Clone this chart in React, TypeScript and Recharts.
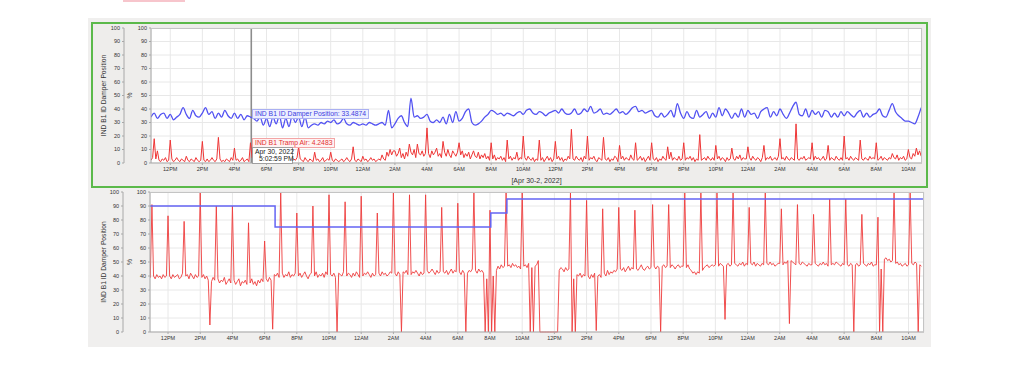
import React from 'react';
import { LineChart, Line, XAxis, YAxis, CartesianGrid, ReferenceLine } from 'recharts';

// hours counted from 12PM Apr 30; damper logged every 12 min, tramp air every 6 min
const startHour = -1.2;
const damperStep = 0.2;
const trampStep = 0.1;

// top panel - IND B1 ID Damper Position (%)
const topDamper = [
  34, 37, 33, 36, 37, 33,
  36, 32, 34, 36, 41, 36, 33, 39, 35, 34,
  37, 41, 36, 38, 33, 37, 34, 39, 35, 33,
  37, 33, 36, 32, 35, 34, 33, 31, 34, 28,
  33, 27, 34, 29, 35, 26, 33, 27, 35, 30,
  34, 27, 34, 26, 28, 29, 28, 30, 29, 31,
  30, 32, 29, 30, 33, 29, 28, 30, 29, 28,
  29, 28, 30, 29, 28, 29, 30, 28, 39, 26,
  29, 33, 35, 30, 27, 48, 34, 35, 33, 34,
  36, 31, 30, 32, 30, 34, 29, 36, 30, 38,
  31, 33, 38, 40, 30, 28, 29, 31, 34, 36,
  39, 38, 36, 37, 35, 37, 36, 35, 37, 38,
  36, 39, 40, 37, 36, 38, 37, 35, 37, 38,
  39, 37, 40, 37, 36, 37, 40, 36, 37, 40,
  38, 42, 37, 38, 40, 36, 37, 36, 38, 40,
  37, 38, 36, 38, 41, 42, 38, 39, 37, 38,
  39, 35, 34, 37, 34, 36, 39, 34, 44, 37,
  33, 38, 34, 33, 39, 34, 36, 38, 33, 37,
  34, 41, 35, 40, 37, 33, 37, 34, 40, 34,
  39, 36, 37, 33, 38, 40, 41, 34, 38, 35,
  40, 36, 33, 37, 42, 45, 36, 35, 40, 34,
  39, 36, 38, 34, 39, 38, 34, 37, 34, 38,
  35, 38, 36, 34, 37, 39, 34, 37, 34, 36,
  37, 40, 35, 34, 39, 44, 38, 35, 33, 31,
  31, 30, 29, 34, 41,
];

// top panel - IND B1 Tramp Air
const topTrampAir = [
  2, 4, 18, 3, 9, 2, 1, 3, 2, 4, 1, 2,
  17, 3, 1, 2, 4, 2, 1, 3, 2, 1, 5, 2, 1, 3, 2, 1, 4, 2, 1, 2,
  16, 2, 1, 3, 1, 2, 4, 2, 1, 3, 19, 3, 1, 2, 1, 3, 2, 1, 4, 2,
  11, 2, 3, 1, 2, 4, 1, 2, 3, 1, 15, 4, 2, 1, 3, 1, 2, 4, 1, 3,
  6, 2, 3, 1, 2, 1, 3, 2, 1, 2, 7, 3, 1, 2, 4, 1, 2, 3, 2, 4,
  12, 3, 2, 1, 4, 2, 1, 3, 2, 1, 8, 2, 3, 1, 2, 4, 1, 2, 3, 2,
  8, 2, 1, 3, 2, 1, 2, 3, 1, 2, 4, 2, 1, 3, 12, 2, 1, 3, 2, 1,
  5, 2, 3, 1, 2, 4, 2, 3, 1, 2, 3, 2, 6, 3, 2, 8, 5, 10, 6, 9,
  9, 5, 7, 11, 4, 7, 3, 8, 5, 14, 8, 6, 10, 4, 14, 7, 6, 9, 5, 7,
  26, 7, 4, 9, 6, 8, 11, 5, 7, 4, 16, 8, 5, 10, 6, 4, 9, 7, 5, 8,
  15, 6, 9, 4, 7, 5, 8, 3, 6, 9, 5, 4, 8, 3, 6, 4, 7, 3, 5, 2,
  15, 3, 6, 2, 4, 3, 5, 2, 4, 1, 17, 3, 5, 2, 4, 3, 8, 2, 4, 3,
  20, 4, 2, 5, 3, 2, 4, 1, 3, 2, 17, 2, 4, 1, 3, 5, 2, 4, 1, 3,
  16, 3, 5, 2, 4, 1, 3, 2, 5, 3, 25, 3, 2, 5, 3, 2, 4, 1, 5, 3,
  20, 2, 4, 3, 5, 2, 1, 4, 3, 2, 19, 3, 2, 4, 1, 3, 2, 5, 4, 1,
  13, 3, 5, 2, 4, 3, 2, 6, 3, 2, 15, 2, 3, 5, 2, 4, 1, 3, 5, 2,
  15, 3, 2, 4, 1, 3, 2, 5, 3, 2, 12, 3, 8, 2, 4, 3, 2, 5, 2, 3,
  15, 2, 4, 3, 5, 2, 4, 1, 3, 2, 21, 2, 3, 4, 2, 5, 3, 2, 4, 2,
  13, 3, 5, 2, 4, 3, 1, 4, 2, 3, 11, 3, 2, 5, 3, 6, 2, 4, 3, 3,
  12, 4, 2, 5, 3, 2, 4, 3, 1, 4, 13, 2, 4, 3, 5, 2, 3, 4, 2, 5,
  18, 3, 4, 2, 5, 3, 2, 4, 3, 2, 29, 3, 2, 4, 3, 5, 2, 3, 4, 3,
  15, 2, 5, 3, 4, 2, 3, 5, 2, 3, 13, 2, 4, 3, 2, 5, 3, 2, 4, 2,
  20, 3, 4, 2, 5, 3, 2, 4, 3, 2, 17, 3, 2, 4, 3, 2, 5, 3, 4, 3,
  15, 2, 3, 5, 2, 4, 3, 2, 4, 3, 7, 4, 3, 6, 2, 4, 3, 5, 2, 3,
  10, 4, 3, 7, 5, 11, 6, 9, 5,
];

// bottom panel - tramp air
const bottomTrampAir = [
  41, 39, 91, 40, 38, 41, 39, 40, 38, 41, 39, 40,
  83, 40, 38, 41, 39, 40, 41, 38, 39, 42, 79, 40, 41, 38, 42, 40, 38, 41, 39, 40,
  100, 39, 41, 38, 40, 37, 5, 36, 39, 37, 90, 38, 35, 37, 36, 39, 34, 36, 38, 35,
  90, 37, 34, 36, 38, 33, 36, 35, 37, 34, 78, 35, 38, 34, 36, 33, 37, 35, 38, 36,
  65, 38, 36, 39, 37, 2, 41, 40, 42, 39, 100, 42, 39, 41, 40, 43, 39, 41, 40, 42,
  85, 40, 42, 39, 41, 43, 40, 38, 41, 42, 90, 40, 43, 39, 41, 40, 42, 39, 43, 41,
  98, 41, 40, 42, 39, 0, 42, 41, 40, 43, 93, 40, 42, 41, 39, 42, 40, 43, 41, 39,
  97, 40, 42, 41, 43, 41, 39, 42, 40, 41, 85, 42, 40, 43, 41, 42, 40, 41, 43, 42,
  100, 42, 40, 43, 41, 0, 43, 42, 44, 41, 98, 41, 43, 42, 44, 42, 40, 43, 41, 42,
  98, 44, 42, 43, 45, 43, 41, 44, 42, 43, 89, 43, 42, 44, 41, 43, 45, 42, 44, 43,
  92, 43, 41, 44, 42, 0, 42, 44, 43, 45, 100, 44, 42, 45, 43, 44, 42, 0, 38, 0,
  87, 0, 40, 0, 44, 47, 45, 48, 46, 47, 100, 47, 48, 46, 49, 47, 48, 46, 47, 45,
  100, 47, 48, 46, 49, 0, 46, 0, 47, 48, 51, 0, 0, 0, 0, 0, 0, 0, 0, 0,
  0, 0, 0, 44, 46, 45, 43, 46, 44, 45, 100, 0, 38, 0, 41, 40, 42, 39, 41, 40,
  94, 40, 38, 41, 39, 42, 1, 40, 41, 39, 88, 42, 40, 44, 41, 43, 42, 44, 43, 45,
  89, 45, 44, 46, 43, 45, 47, 44, 46, 45, 87, 45, 44, 46, 48, 45, 44, 46, 47, 45,
  46, 91, 47, 45, 47, 46, 0, 47, 48, 46, 47, 91, 46, 48, 47, 45, 47, 48, 46, 47,
  47, 100, 46, 48, 45, 44, 42, 43, 41, 43, 42, 100, 44, 46, 47, 48, 46, 47, 48, 47,
  48, 100, 47, 49, 48, 47, 9, 48, 49, 47, 48, 100, 49, 48, 47, 49, 48, 50, 47, 49,
  48, 89, 49, 48, 50, 47, 49, 48, 47, 49, 48, 100, 49, 48, 50, 48, 49, 47, 48, 49,
  49, 88, 48, 50, 49, 51, 6, 51, 50, 49, 48, 91, 49, 48, 50, 49, 48, 47, 49, 48,
  48, 84, 49, 48, 47, 49, 48, 50, 48, 49, 47, 95, 48, 49, 48, 50, 49, 48, 47, 49,
  48, 95, 48, 47, 49, 48, 0, 48, 49, 47, 48, 84, 49, 48, 47, 49, 48, 50, 47, 48,
  48, 82, 0, 45, 0, 52, 53, 51, 52, 50, 51, 100, 49, 50, 48, 49, 47, 48, 49, 47,
  48, 100, 49, 48, 50, 49, 0, 48, 47,
];

// bottom panel - damper position setpoint (steps)
const setpointTimes = [-1.2, 6.65, 20.05, 21.05, 46.96];
const setpointValues = [90, 75, 85, 95, 95];

const hourTicks = [0, 2, 4, 6, 8, 10, 12, 14, 16, 18, 20, 22, 24, 26, 28, 30, 32, 34, 36, 38, 40, 42, 44, 46];
const pctTicks = [0, 10, 20, 30, 40, 50, 60, 70, 80, 90, 100];

const cursorTime = 5.05;
const damperReading = '33.4874';
const trampReading = '4.2483';

const at = (step: number, i: number) => +(startHour + i * step).toFixed(2);
const damperData = topDamper.map((v, i) => ({ t: at(damperStep, i), damper: v }));
const topData = topTrampAir.map((v, i) => ({ t: at(trampStep, i), tramp: v }));
const bottomData = bottomTrampAir.map((v, i) => ({ t: at(trampStep, i), tramp: v }));
const setpointData = setpointTimes.map((t, i) => ({ t, sp: setpointValues[i] }));

const fmtHour = (t: number) => {
  const h = (((12 + t) % 24) + 24) % 24;
  const h12 = h % 12 === 0 ? 12 : h % 12;
  return `${h12}${h < 12 ? 'AM' : 'PM'}`;
};

const font = '"Liberation Sans", Arial, sans-serif';
const tickStyle = { fontSize: 5.5, fill: '#333' };
const axisGray = '#a8a8a8';

function yAxes(outerW: number, innerW: number, outerOffset: number, innerOffset: number) {
  return [
    <YAxis
      key="pos"
      yAxisId="pos"
      width={outerW}
      domain={[0, 100]}
      ticks={pctTicks}
      interval={0}
      tick={tickStyle}
      tickSize={2}
      stroke={axisGray}
      label={{
        value: 'IND B1 ID Damper Position',
        angle: -90,
        position: 'insideLeft',
        offset: outerOffset,
        style: { textAnchor: 'middle', fontSize: 6.7, fill: '#333' },
      }}
    />,
    <YAxis
      key="pct"
      yAxisId="pct"
      width={innerW}
      domain={[0, 100]}
      ticks={pctTicks}
      interval={0}
      tick={tickStyle}
      tickSize={2}
      stroke={axisGray}
      label={{
        value: '%',
        angle: -90,
        position: 'insideLeft',
        offset: innerOffset,
        style: { textAnchor: 'middle', fontSize: 6.7, fill: '#333' },
      }}
    />,
    // keeps the outer scale populated so its ticks draw
    <Line key="posRef" yAxisId="pos" dataKey="tramp" stroke="transparent" strokeWidth={0} dot={false} activeDot={false} isAnimationActive={false} />,
  ];
}

export default function App() {
  return (
    <div style={{ position: 'absolute', left: 0, top: 0, width: 1024, height: 374, background: '#fff', fontFamily: font }}>
      <div style={{ position: 'absolute', left: 123, top: 0, width: 62, height: 2, background: '#f7c5cc' }} />
      <div style={{ position: 'absolute', left: 88, top: 18, width: 843, height: 329, background: '#f0efee' }} />
      <div
        style={{
          position: 'absolute', left: 91, top: 22, width: 837, height: 166, boxSizing: 'border-box',
          border: '2.5px solid #5bb94a', background: '#eeedeb',
        }}
      />

      {/* top panel */}
      <div style={{ position: 'absolute', left: 91, top: 22 }}>
        <LineChart width={837} height={166} data={topData} margin={{ top: 6, right: 6, bottom: 0, left: 0 }} style={{ fontFamily: font }}>
          <CartesianGrid yAxisId="pct" stroke="#e8e8e8" fill="#fff" />
          <XAxis
            type="number"
            dataKey="t"
            domain={[-1.2, 46.85]}
            ticks={hourTicks}
            interval={0}
            tickFormatter={fmtHour}
            tick={tickStyle}
            tickSize={2}
            stroke={axisGray}
            height={25}
            allowDataOverflow
            label={{ value: '[Apr 30-2, 2022]', position: 'insideBottom', offset: 5, style: { fontSize: 7, fill: '#333' } }}
          />
          {yAxes(33, 27, 13, 6)}
          <ReferenceLine yAxisId="pct" x={cursorTime} stroke="#8c8c8c" strokeWidth={1.6} />
          <Line yAxisId="pct" dataKey="tramp" stroke="#ee3535" strokeWidth={1} dot={false} isAnimationActive={false} />
          <Line yAxisId="pct" data={damperData} dataKey="damper" type="monotone" stroke="#5252f2" strokeWidth={1.3} dot={false} isAnimationActive={false} />
        </LineChart>
      </div>
      <div style={{ position: 'absolute', left: 151, top: 28, width: 771, height: 135, boxSizing: 'border-box', border: '1px solid #c4c4c4', borderLeft: 'none', borderBottom: 'none' }} />

      {/* hover readouts */}
      <div style={{ position: 'absolute', left: 252, top: 108.5, padding: '0 2px', border: '1px solid #aab0f2', background: '#eceeff', color: '#3d3de0', fontSize: 6.8, lineHeight: '8px', whiteSpace: 'nowrap' }}>
        {`IND B1 ID Damper Position: ${damperReading}`}
      </div>
      <div style={{ position: 'absolute', left: 252, top: 138, padding: '0 2px', border: '1px solid #f3a5a5', background: '#fff2f2', color: '#e33030', fontSize: 6.8, lineHeight: '8px', whiteSpace: 'nowrap' }}>
        {`IND B1 Tramp Air: ${trampReading}`}
      </div>
      <div style={{ position: 'absolute', left: 252, top: 146.5, width: 41, boxSizing: 'border-box', padding: '0 2px', border: '1px solid #a0a0a0', background: '#fff', color: '#222', fontSize: 6.8, lineHeight: '7.5px', whiteSpace: 'nowrap' }}>
        <div>Apr 30, 2022</div>
        <div style={{ paddingLeft: 4 }}>5:02:59 PM</div>
      </div>

      {/* bottom panel */}
      <div style={{ position: 'absolute', left: 91, top: 188 }}>
        <LineChart width={837} height={158} data={bottomData} margin={{ top: 4, right: 4, bottom: 0, left: 0 }} style={{ fontFamily: font }}>
          <CartesianGrid yAxisId="pct" stroke="#e8e8e8" fill="#fff" />
          <XAxis
            type="number"
            dataKey="t"
            domain={[-1.12, 46.96]}
            ticks={hourTicks}
            interval={0}
            tickFormatter={fmtHour}
            tick={tickStyle}
            tickSize={2}
            stroke={axisGray}
            height={14}
            allowDataOverflow
          />
          {yAxes(32, 27, 13, 7)}
          <Line yAxisId="pct" dataKey="tramp" stroke="#ee3d3d" strokeOpacity={0.9} strokeWidth={1} dot={false} isAnimationActive={false} />
          <Line yAxisId="pct" data={setpointData} dataKey="sp" type="stepAfter" stroke="#6464f4" strokeWidth={1.5} dot={false} isAnimationActive={false} />
        </LineChart>
      </div>
      <div style={{ position: 'absolute', left: 150, top: 192, width: 774, height: 140, boxSizing: 'border-box', border: '1px solid #c4c4c4', borderLeft: 'none', borderBottom: 'none' }} />
    </div>
  );
}
